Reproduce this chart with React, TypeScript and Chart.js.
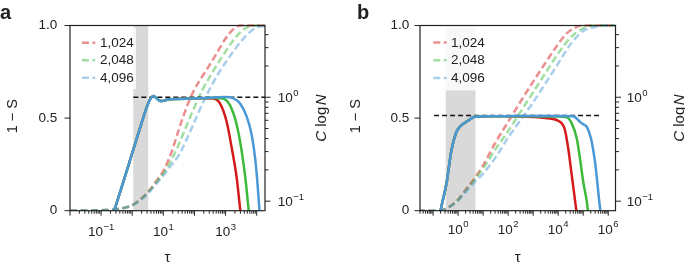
import React, { useEffect, useRef } from "react";
import { Chart, registerables } from "chart.js";

Chart.register(...registerables);

const FONT = '"Liberation Sans", Arial, Helvetica, sans-serif';
const INK = "#222222";

// ---------- axes ----------
const aTauRange = [0.01, 1.85e4];
const bTauRange = [0.03, 1.95e6];
const cRange = [0.081, 4.9];
const sRange = [0, 1];

const aDecades = [-2, -1, 0, 1, 2, 3, 4];
const bDecades = [-2, -1, 0, 1, 2, 3, 4, 5, 6];
const aLabelExps = [-1, 1, 3];
const bLabelExps = [0, 2, 4, 6];
const cTickValues = [0.1, 0.2, 0.3, 0.4, 0.5, 0.6, 0.7, 0.8, 0.9, 1, 2, 3, 4];
const cLabelExps = [-1, 0];
const sTickValues = [0, 0.5, 1];
const sTickLabels = ["0", "0.5", "1.0"];
const MULTS = [1, 2, 3, 4, 5, 6, 7, 8, 9];

const legendLabels = ["1,024", "2,048", "4,096"];

// ---------- panel a : 1 - S (dashed), log10(tau) vs value ----------
const aRedDashLogTau = [-2, -1, -0.5, 0, 0.25, 0.5, 0.75, 1.0, 1.25, 1.5, 1.75, 2.0, 2.25, 2.5, 2.75, 3.0, 3.25, 3.5, 4.3];
const aRedDash = [0, 0.003, 0.008, 0.03, 0.06, 0.1, 0.155, 0.215, 0.31, 0.44, 0.56, 0.655, 0.725, 0.79, 0.86, 0.93, 0.98, 1.0, 1.0];
const aGreenDashLogTau = [-2, -1, -0.5, 0, 0.25, 0.5, 0.75, 1.0, 1.25, 1.5, 1.75, 2.0, 2.25, 2.5, 2.75, 3.0, 3.25, 3.5, 3.75, 4.3];
const aGreenDash = [0, 0.003, 0.008, 0.03, 0.058, 0.097, 0.148, 0.2, 0.27, 0.36, 0.46, 0.56, 0.65, 0.725, 0.795, 0.86, 0.92, 0.967, 0.995, 1.0];
const aBlueDashLogTau = [-2, -1, -0.5, 0, 0.25, 0.5, 0.75, 1.0, 1.25, 1.5, 1.75, 2.0, 2.25, 2.5, 2.75, 3.0, 3.25, 3.5, 3.75, 4.0, 4.3];
const aBlueDash = [0, 0.003, 0.008, 0.029, 0.055, 0.092, 0.14, 0.19, 0.245, 0.3, 0.385, 0.48, 0.575, 0.66, 0.735, 0.8, 0.86, 0.915, 0.96, 0.99, 1.0];

// ---------- panel a : C log N (solid) ----------
const aRedSolidLogTau = [-0.62, -0.556, 0.064, 0.28, 0.514, 0.6, 0.675, 0.76, 0.86, 0.955, 1.116, 1.37, 1.855, 2.34, 2.6, 2.82, 3.035, 3.2, 3.36, 3.46, 3.5];
const aRedSolid = [0.075, 0.0855, 0.334, 0.54, 0.874, 0.98, 1.027, 0.993, 0.934, 0.92, 0.944, 0.961, 0.972, 0.978, 0.972, 0.874, 0.581, 0.323, 0.166, 0.0886, 0.07];
const aGreenSolidLogTau = [-0.62, -0.556, 0.064, 0.28, 0.514, 0.6, 0.675, 0.76, 0.86, 0.955, 1.116, 1.37, 1.855, 2.34, 2.6, 2.875, 3.14, 3.36, 3.52, 3.65, 3.73, 3.77];
const aGreenSolid = [0.075, 0.0855, 0.334, 0.54, 0.874, 0.98, 1.027, 0.993, 0.934, 0.92, 0.944, 0.961, 0.972, 0.98, 0.985, 0.976, 0.84, 0.54, 0.3, 0.154, 0.0886, 0.07];
const aBlueSolidLogTau = [-0.62, -0.556, 0.064, 0.28, 0.514, 0.6, 0.675, 0.76, 0.86, 0.955, 1.116, 1.37, 1.855, 2.34, 2.71, 3.01, 3.25, 3.46, 3.68, 3.84, 3.95, 4.03, 4.08, 4.1];
const aBlueSolid = [0.075, 0.0855, 0.334, 0.54, 0.874, 0.98, 1.027, 0.993, 0.934, 0.92, 0.944, 0.961, 0.972, 0.982, 1.0, 1.005, 0.976, 0.874, 0.65, 0.433, 0.259, 0.143, 0.0886, 0.07];

const aBandTau = [1.08, 3.27];
const aRefLogTau = [0.035, 4.3];
const aRefC = 1.0;

// ---------- panel b : 1 - S (dashed) ----------
const bRedDashLogTau = [-1.6, -0.8, -0.6, -0.3, 0, 0.3, 0.7, 1.0, 1.5, 2.0, 2.5, 3.0, 3.5, 4.0, 4.34, 4.7, 5.0, 6.3];
const bRedDash = [0, 0, 0.004, 0.025, 0.06, 0.113, 0.183, 0.245, 0.37, 0.48, 0.59, 0.697, 0.8, 0.9, 0.957, 0.99, 1.0, 1.0];
const bGreenDashLogTau = [-1.6, -0.8, -0.6, -0.3, 0, 0.3, 0.7, 1.0, 1.5, 2.0, 2.5, 3.0, 3.5, 4.0, 4.5, 5.0, 5.4, 6.3];
const bGreenDash = [0, 0, 0.004, 0.025, 0.058, 0.108, 0.175, 0.228, 0.333, 0.43, 0.535, 0.64, 0.745, 0.85, 0.935, 0.985, 1.0, 1.0];
const bBlueDashLogTau = [-1.6, -0.8, -0.6, -0.3, 0, 0.3, 0.7, 1.0, 1.5, 2.0, 2.5, 3.0, 3.5, 4.0, 4.5, 5.0, 5.5, 5.8, 6.3];
const bBlueDash = [0, 0, 0.004, 0.024, 0.055, 0.1, 0.16, 0.2, 0.288, 0.395, 0.49, 0.585, 0.69, 0.795, 0.9, 0.97, 0.993, 1.0, 1.0];

// ---------- panel b : C log N (solid) ----------
const bRedSolidLogTau = [-0.75, -0.69, -0.464, -0.264, -0.064, 0.068, 0.4, 0.668, 1.27, 2.0, 3.0, 3.5, 3.94, 4.14, 4.27, 4.4, 4.54, 4.67, 4.76];
const bRedSolid = [0.07, 0.0836, 0.149, 0.31, 0.466, 0.52, 0.594, 0.65, 0.656, 0.655, 0.645, 0.632, 0.604, 0.561, 0.484, 0.323, 0.179, 0.103, 0.07];
const bGreenSolidLogTau = [-0.75, -0.69, -0.464, -0.264, -0.064, 0.068, 0.4, 0.668, 1.27, 2.0, 3.0, 4.0, 4.34, 4.54, 4.74, 4.87, 5.0, 5.14, 5.22];
const bGreenSolid = [0.07, 0.0836, 0.149, 0.31, 0.466, 0.52, 0.594, 0.65, 0.656, 0.657, 0.657, 0.652, 0.64, 0.561, 0.403, 0.258, 0.154, 0.1, 0.07];
const bBlueSolidLogTau = [-0.75, -0.69, -0.464, -0.264, -0.064, 0.068, 0.4, 0.668, 1.27, 2.0, 3.0, 4.0, 4.6, 4.75, 4.87, 5.0, 5.14, 5.25, 5.34, 5.47, 5.56, 5.64, 5.72];
const bBlueSolid = [0.07, 0.0836, 0.149, 0.31, 0.466, 0.52, 0.594, 0.65, 0.656, 0.658, 0.66, 0.66, 0.657, 0.62, 0.58, 0.55, 0.52, 0.45, 0.373, 0.24, 0.154, 0.1, 0.07];

const bBandTau = [0.32, 4.96];
const bRefLogTau = [-0.96, 5.64];
const bRefC = 0.667;

// ---------- styles ----------
const SOLID_COLORS = ["#d41a1a", "#3cba3c", "#4a98d6"];
const DASH_COLORS = ["rgba(214,30,30,0.5)", "rgba(60,186,60,0.48)", "rgba(74,152,214,0.48)"];
const BAND_COLOR = "#d9d9d9";

const isDecade = (v: number) => {
  const e = Math.round(Math.log10(v));
  return Math.abs(v / Math.pow(10, e) - 1) < 1e-9;
};
const toPoints = (logTau: number[], vals: number[]) => logTau.map((l, i) => ({ x: Math.pow(10, l), y: vals[i] }));

const TOP = 25.5;
const BOTTOM = 210.7;
const H = 264;

interface Spec {
  key: string;
  pageLeft: number;
  width: number;
  areaLeft: number;
  areaRight: number;
  xRange: number[];
  decades: number[];
  labelExps: number[];
  xLabelBase: number;
  yPad: number;
  y2Pad: number;
  band: number[];
  refLogTau: number[];
  refC: number;
  dashed: number[][][];
  solid: number[][][];
  legendBox: number[];
  sample: number[];
  textX: number;
  rows: number[];
  leftTitleX: number;
  rightTitleX: number;
  tauX: number;
  labelX: number;
}

const SPECS: Spec[] = [
  {
    key: "a", pageLeft: 0, width: 342, areaLeft: 70, areaRight: 265,
    xRange: aTauRange, decades: aDecades, labelExps: aLabelExps, xLabelBase: 236,
    yPad: 12.7, y2Pad: 12.7,
    band: aBandTau, refLogTau: aRefLogTau, refC: aRefC,
    dashed: [[aRedDashLogTau, aRedDash], [aGreenDashLogTau, aGreenDash], [aBlueDashLogTau, aBlueDash]],
    solid: [[aRedSolidLogTau, aRedSolid], [aGreenSolidLogTau, aGreenSolid], [aBlueSolidLogTau, aBlueSolid]],
    legendBox: [73, 27.5, 136, 89], sample: [82, 95.3], textX: 100, rows: [42.7, 60.2, 77.7],
    leftTitleX: 13, rightTitleX: 322, tauX: 167.5, labelX: 0,
  },
  {
    key: "b", pageLeft: 342, width: 343, areaLeft: 78, areaRight: 273.5,
    xRange: bTauRange, decades: bDecades, labelExps: bLabelExps, xLabelBase: 233.5,
    yPad: 10.7, y2Pad: 11.2,
    band: bBandTau, refLogTau: bRefLogTau, refC: bRefC,
    dashed: [[bRedDashLogTau, bRedDash], [bGreenDashLogTau, bGreenDash], [bBlueDashLogTau, bBlueDash]],
    solid: [[bRedSolidLogTau, bRedSolid], [bGreenSolidLogTau, bGreenSolid], [bBlueSolidLogTau, bBlueSolid]],
    legendBox: [82, 25.5, 147, 90.5], sample: [91.3, 104.6], textX: 109, rows: [42.5, 60.2, 78],
    leftTitleX: 14, rightTitleX: 338, tauX: 175.8, labelX: 15,
  },
];

function xTickValues(spec: Spec) {
  const out: number[] = [];
  spec.decades.forEach((d) => MULTS.forEach((m) => {
    const v = m * Math.pow(10, d);
    if (v >= spec.xRange[0] * (1 - 1e-9) && v <= spec.xRange[1] * (1 + 1e-9)) out.push(v);
  }));
  return out;
}

const BASE_FONT = `13.5px ${FONT}`;
const EXP_FONT = `9.5px ${FONT}`;

function drawPow(ctx: any, e: number, x: number, baseY: number, align: string) {
  const es = e < 0 ? "\u2212" + Math.abs(e) : String(e);
  ctx.font = BASE_FONT;
  const w1 = ctx.measureText("10").width;
  ctx.font = EXP_FONT;
  const w2 = ctx.measureText(es).width;
  const x0 = align === "center" ? x - (w1 + w2 + 0.5) / 2 : x;
  ctx.textAlign = "left";
  ctx.textBaseline = "alphabetic";
  ctx.font = BASE_FONT;
  ctx.fillText("10", x0, baseY);
  ctx.font = EXP_FONT;
  ctx.fillText(es, x0 + w1 + 0.5, baseY - 6.2);
}

function makePlugin(spec: Spec) {
  return {
    id: "deco_" + spec.key,
    beforeDatasetsDraw(chart: any) {
      const { ctx, chartArea } = chart;
      const x = chart.scales.x;
      const x0 = x.getPixelForValue(spec.band[0]);
      const x1 = x.getPixelForValue(spec.band[1]);
      ctx.save();
      ctx.fillStyle = BAND_COLOR;
      ctx.fillRect(x0, chartArea.top, x1 - x0, chartArea.bottom - chartArea.top);
      ctx.restore();
    },
    afterDatasetsDraw(chart: any) {
      const { ctx } = chart;
      const [bx0, by0, bx1, by1] = spec.legendBox;
      ctx.save();
      ctx.fillStyle = "rgba(255,255,255,0.82)";
      ctx.fillRect(bx0, by0, bx1 - bx0, by1 - by0);
      legendLabels.forEach((lab, i) => {
        const y = spec.rows[i];
        ctx.strokeStyle = DASH_COLORS[i];
        ctx.lineWidth = 2.5;
        ctx.setLineDash([7, 3.5]);
        ctx.beginPath();
        ctx.moveTo(spec.sample[0], y);
        ctx.lineTo(spec.sample[1], y);
        ctx.stroke();
        ctx.setLineDash([]);
        ctx.fillStyle = INK;
        ctx.font = `13.5px ${FONT}`;
        ctx.textAlign = "left";
        ctx.textBaseline = "middle";
        ctx.fillText(lab, spec.textX, y + 0.5);
      });
      ctx.restore();
    },
    afterDraw(chart: any) {
      const { ctx, chartArea } = chart;
      const { left, right, top, bottom } = chartArea;
      const xs = chart.scales.x;
      const y2 = chart.scales.y2;
      ctx.save();
      // frame
      ctx.strokeStyle = INK;
      ctx.lineWidth = 1.2;
      ctx.strokeRect(left, top, right - left, bottom - top);
      // tick marks
      ctx.lineWidth = 1;
      ctx.beginPath();
      xs.ticks.forEach((t: any) => {
        const px = xs.getPixelForValue(t.value);
        const len = isDecade(t.value) ? 5 : 3;
        ctx.moveTo(px, bottom);
        ctx.lineTo(px, bottom + len);
      });
      chart.scales.y.ticks.forEach((t: any) => {
        const py = chart.scales.y.getPixelForValue(t.value);
        ctx.moveTo(left - 5.5, py);
        ctx.lineTo(left, py);
      });
      y2.ticks.forEach((t: any) => {
        const py = y2.getPixelForValue(t.value);
        const len = isDecade(t.value) ? 5.5 : 3.5;
        ctx.moveTo(right, py);
        ctx.lineTo(right + len, py);
      });
      ctx.stroke();

      ctx.fillStyle = INK;
      // log tick labels with superscript exponents
      spec.labelExps.forEach((e) => {
        drawPow(ctx, e, xs.getPixelForValue(Math.pow(10, e)), spec.xLabelBase, "center");
      });
      cLabelExps.forEach((e) => {
        const py = y2.getPixelForValue(Math.pow(10, e));
        drawPow(ctx, e, right + spec.y2Pad, py + 4.8, "left");
      });

      const midY = (top + bottom) / 2 - 2;
      // left title
      ctx.save();
      ctx.translate(spec.leftTitleX, midY);
      ctx.rotate(-Math.PI / 2);
      ctx.font = `14.5px ${FONT}`;
      ctx.textAlign = "center";
      ctx.textBaseline = "middle";
      ctx.fillText("1 \u2212 S", 0, 0);
      ctx.restore();
      // right title: C logN
      ctx.save();
      ctx.translate(spec.rightTitleX, midY + 2);
      ctx.rotate(-Math.PI / 2);
      ctx.textBaseline = "middle";
      ctx.textAlign = "left";
      const parts: [string, string][] = [["C", `italic 15px ${FONT}`], [" log", `15px ${FONT}`], ["N", `italic 15px ${FONT}`]];
      let total = 0;
      const widths = parts.map(([s, f]) => { ctx.font = f; const w = ctx.measureText(s).width; total += w; return w; });
      total += 1.5;
      let cx = -total / 2;
      parts.forEach(([s, f], i) => {
        ctx.font = f;
        ctx.fillText(s, cx, 0);
        cx += widths[i] + (i === 1 ? 1.5 : 0);
      });
      ctx.restore();
      // tau
      ctx.font = `15px ${FONT}`;
      ctx.textAlign = "center";
      ctx.textBaseline = "alphabetic";
      ctx.fillText("\u03C4", spec.tauX, 261.5);
      // panel label
      ctx.font = `bold 20px ${FONT}`;
      ctx.textAlign = "left";
      ctx.fillText(spec.key, spec.labelX, 18.5);
      ctx.restore();
    },
  };
}

function makeConfig(spec: Spec): any {
  const datasets: any[] = [];
  const solidOrder = [2, 1, 0];
  const clip = { left: 0, top: 2, right: 0, bottom: 0 };
  spec.solid.forEach(([lt, v], i) => datasets.push({
    data: toPoints(lt, v), borderColor: SOLID_COLORS[i], borderWidth: 2.5, pointRadius: 0,
    cubicInterpolationMode: "monotone", yAxisID: "y2", xAxisID: "x", order: solidOrder[i], clip,
  }));
  datasets.push({
    data: toPoints(spec.refLogTau, [spec.refC, spec.refC]), borderColor: "#111111", borderWidth: 1.4,
    borderDash: [5, 3], pointRadius: 0, yAxisID: "y2", xAxisID: "x", order: 3, clip,
  });
  spec.dashed.forEach(([lt, v], i) => datasets.push({
    data: toPoints(lt, v), borderColor: DASH_COLORS[i], borderWidth: 2.5, borderDash: [7, 3.5], pointRadius: 0,
    cubicInterpolationMode: "monotone", yAxisID: "y", xAxisID: "x", order: 6 - i, clip,
  }));

  const tickFont = { family: FONT, size: 13.5 };
  const noGrid = { display: false, drawTicks: false, tickLength: 0 };
  return {
    type: "line",
    data: { datasets },
    options: {
      animation: false,
      responsive: false,
      devicePixelRatio: 1,
      layout: { padding: { top: TOP, left: 0, right: 0, bottom: 0 } },
      plugins: { legend: { display: false }, tooltip: { enabled: false } },
      events: [],
      scales: {
        x: {
          type: "logarithmic", position: "bottom", min: spec.xRange[0], max: spec.xRange[1],
          grid: noGrid, border: { display: false },
          ticks: { display: false, autoSkip: false, maxRotation: 0, minRotation: 0 },
          afterBuildTicks: (s: any) => { s.ticks = xTickValues(spec).map((v) => ({ value: v })); },
          afterFit: (s: any) => { s.height = H - BOTTOM; },
        },
        y: {
          type: "linear", position: "left", min: sRange[0], max: sRange[1],
          grid: noGrid, border: { display: false },
          ticks: {
            autoSkip: false, padding: spec.yPad, font: tickFont, color: INK,
            callback: (value: any) => {
              const idx = sTickValues.findIndex((t) => Math.abs(t - Number(value)) < 1e-9);
              return idx >= 0 ? sTickLabels[idx] : "";
            },
          },
          afterBuildTicks: (s: any) => { s.ticks = sTickValues.map((v) => ({ value: v })); },
          afterFit: (s: any) => { s.width = spec.areaLeft; },
        },
        y2: {
          type: "logarithmic", position: "right", min: cRange[0], max: cRange[1],
          grid: noGrid, border: { display: false },
          ticks: { display: false, autoSkip: false },
          afterBuildTicks: (s: any) => { s.ticks = cTickValues.map((v) => ({ value: v })); },
          afterFit: (s: any) => { s.width = spec.width - spec.areaRight; },
        },
      },
    },
    plugins: [makePlugin(spec)],
  };
}

function Panel({ spec }: { spec: Spec }) {
  const ref = useRef<HTMLCanvasElement | null>(null);
  useEffect(() => {
    if (!ref.current) return;
    const chart = new Chart(ref.current, makeConfig(spec));
    return () => chart.destroy();
  }, [spec]);
  return (
    <canvas
      ref={ref}
      width={spec.width}
      height={H}
      style={{ position: "absolute", left: spec.pageLeft, top: 0, width: spec.width, height: H }}
    />
  );
}

export default function App() {
  return (
    <div style={{ position: "fixed", left: 0, top: 0, width: 685, height: H, background: "#ffffff", overflow: "hidden" }}>
      {SPECS.map((s) => <Panel key={s.key} spec={s} />)}
    </div>
  );
}
